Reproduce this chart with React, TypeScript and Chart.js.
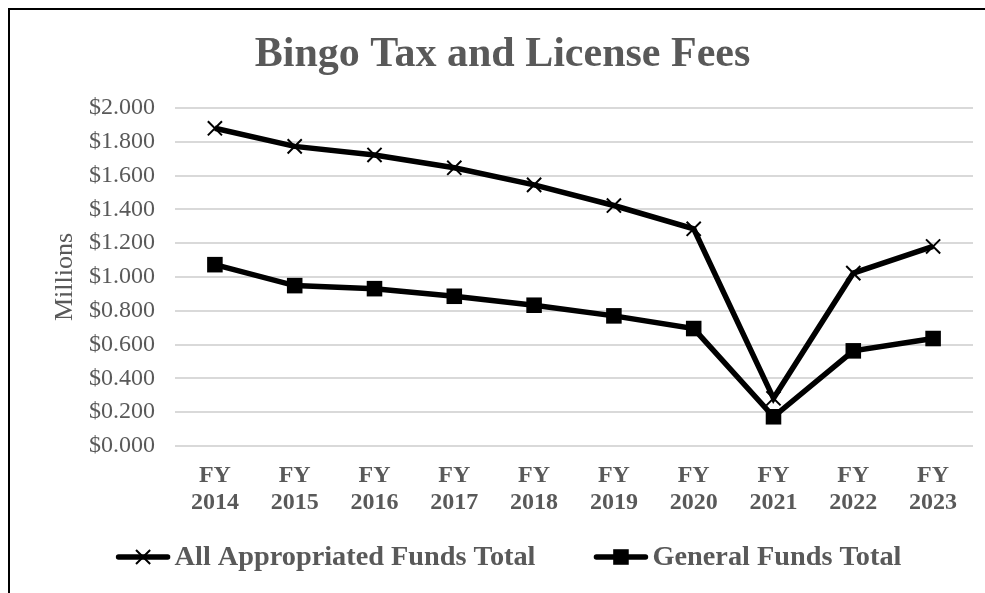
import React, { useEffect, useRef } from 'react';
import { Chart, registerables } from 'chart.js';

Chart.register(...registerables);

const categories = ['FY 2014', 'FY 2015', 'FY 2016', 'FY 2017', 'FY 2018', 'FY 2019', 'FY 2020', 'FY 2021', 'FY 2022', 'FY 2023'];
const allAppropriated = [1.880, 1.773, 1.722, 1.646, 1.545, 1.423, 1.285, 0.282, 1.023, 1.181];
const generalFunds = [1.073, 0.949, 0.931, 0.886, 0.833, 0.770, 0.695, 0.173, 0.563, 0.636];
const seriesLabels = ['All Appropriated Funds Total', 'General Funds Total'];
const titleText = 'Bingo Tax and License Fees';
const yAxisTitle = 'Millions';
const yMin = 0;
const yMax = 2;
const yStep = 0.2;

const GREY = '#595959';
const FONT = '"Liberation Serif", "Times New Roman", serif';

const legendPlugin = {
  id: 'customLegend',
  afterDraw(chart: any) {
    const ctx = chart.ctx as CanvasRenderingContext2D;
    const datasets = chart.data.datasets;
    const fontSize = 28.3;
    ctx.save();
    ctx.font = `bold ${fontSize}px ${FONT}`;
    const symW = 55;
    const symGap = 4;
    const itemGap = 58;
    const widths = datasets.map((d: any) => symW + symGap + ctx.measureText(d.label).width);
    const total = widths.reduce((a: number, b: number) => a + b, 0) + itemGap * (datasets.length - 1);
    const centerX = 498.5;
    const cy = 547;
    let x = centerX - total / 2;
    datasets.forEach((d: any, i: number) => {
      ctx.strokeStyle = d.borderColor;
      ctx.lineWidth = d.borderWidth;
      ctx.lineCap = 'round';
      ctx.beginPath();
      ctx.moveTo(x + 3, cy);
      ctx.lineTo(x + symW - 3, cy);
      ctx.stroke();
      const mx = x + symW / 2;
      if (d.pointStyle === 'crossRot') {
        const h = d.pointRadius * Math.SQRT1_2;
        ctx.lineWidth = d.pointBorderWidth;
        ctx.lineCap = 'butt';
        ctx.beginPath();
        ctx.moveTo(mx - h, cy - h);
        ctx.lineTo(mx + h, cy + h);
        ctx.moveTo(mx + h, cy - h);
        ctx.lineTo(mx - h, cy + h);
        ctx.stroke();
      } else {
        const s = d.pointRadius * Math.SQRT1_2;
        ctx.fillStyle = d.pointBackgroundColor;
        ctx.fillRect(mx - s, cy - s, 2 * s, 2 * s);
      }
      ctx.fillStyle = GREY;
      ctx.textBaseline = 'middle';
      ctx.textAlign = 'left';
      ctx.fillText(d.label, x + symW + symGap, cy + 1);
      x += widths[i] + itemGap;
    });
    ctx.restore();
  },
};

export default function App() {
  const ref = useRef<HTMLCanvasElement | null>(null);

  useEffect(() => {
    if (!ref.current) return;
    const chart = new Chart(ref.current, {
      type: 'line',
      data: {
        labels: categories.map((c) => c.split(' ')),
        datasets: [
          {
            label: seriesLabels[0],
            data: allAppropriated,
            borderColor: '#000000',
            backgroundColor: '#000000',
            borderWidth: 5.5,
            pointStyle: 'crossRot',
            pointRadius: 10,
            pointBorderWidth: 2,
            pointBorderColor: '#000000',
            pointBackgroundColor: '#000000',
            tension: 0,
          },
          {
            label: seriesLabels[1],
            data: generalFunds,
            borderColor: '#000000',
            backgroundColor: '#000000',
            borderWidth: 5.5,
            pointStyle: 'rect',
            pointRadius: 11,
            pointBorderWidth: 0,
            pointBorderColor: '#000000',
            pointBackgroundColor: '#000000',
            tension: 0,
          },
        ],
      },
      options: {
        responsive: false,
        animation: false,
        devicePixelRatio: 1,
        layout: { padding: { left: 19, right: 9, top: 0, bottom: 0 } },
        plugins: {
          legend: { display: false },
          tooltip: { enabled: false },
          title: {
            display: true,
            text: titleText,
            color: GREY,
            font: { family: FONT, size: 42, weight: 'bold', lineHeight: 1.2 },
            padding: { top: 19.5, bottom: 28.1 },
          },
        },
        scales: {
          x: {
            offset: true,
            grid: { display: false, drawTicks: false },
            border: { display: false },
            ticks: {
              color: GREY,
              padding: 16.5,
              font: { family: FONT, size: 24, weight: 'bold', lineHeight: 1.125 },
              maxRotation: 0,
              autoSkip: false,
            },
            afterFit: (scale: any) => {
              scale.height = 147;
            },
          },
          y: {
            min: yMin,
            max: yMax,
            grid: { color: '#d9d9d9', lineWidth: 2, drawTicks: false },
            border: { display: false },
            ticks: {
              stepSize: yStep,
              color: GREY,
              padding: 20,
              font: { family: FONT, size: 24 },
              callback: (v: any) => '$' + Number(v).toFixed(3),
            },
            title: {
              display: true,
              text: yAxisTitle,
              color: GREY,
              font: { family: FONT, size: 26, lineHeight: 1.2 },
              padding: { top: 21, bottom: 0 },
            },
            afterFit: (scale: any) => {
              scale.width = 146;
            },
          },
        },
      },
      plugins: [legendPlugin],
    });
    return () => chart.destroy();
  }, []);

  return (
    <div
      style={{
        position: 'fixed',
        top: 8,
        left: 8,
        borderTop: '2px solid #000',
        borderLeft: '2px solid #000',
        width: 975,
        height: 583,
        background: '#fff',
      }}
    >
      <canvas ref={ref} width={975} height={583} style={{ display: 'block', width: 975, height: 583 }} />
    </div>
  );
}
